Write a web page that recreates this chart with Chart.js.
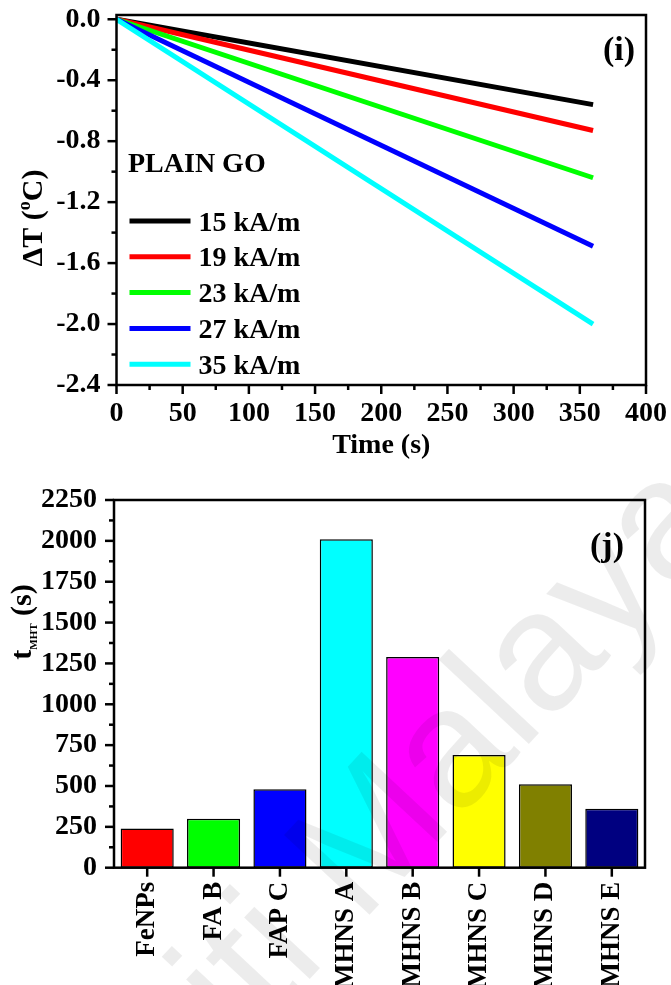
<!DOCTYPE html>
<html>
<head>
<meta charset="utf-8">
<script src="https://cdn.jsdelivr.net/npm/chart.js@4.4.1/dist/chart.umd.min.js"></script>
<style>
  html, body { margin: 0; padding: 0; background: #fff; }
  body { width: 671px; height: 985px; position: relative; overflow: hidden; }
  canvas { position: absolute; left: 0; }
  #heating { top: 0; }
  #tmht { top: 470px; }
  #wm { top: 0; pointer-events: none; }
</style>
</head>
<body>
<canvas id="heating" width="671" height="470"></canvas>
<canvas id="tmht" width="671" height="515"></canvas>
<canvas id="wm" width="671" height="985"></canvas>
<script>
// ---- panel (i): temperature change of plain GO under different field amplitudes ----
const times = [0, 360];
const fieldLabels = ['15 kA/m', '19 kA/m', '23 kA/m', '27 kA/m', '35 kA/m'];
const dT15 = [0, -0.56];
const dT19 = [0, -0.73];
const dT23 = [0, -1.04];
const dT27 = [0, -1.49];
const dT35 = [0, -2.00];
const lineColors = ['#000000', '#ff0000', '#00ff00', '#0000ff', '#00ffff'];
const timeTicks = [0, 50, 100, 150, 200, 250, 300, 350, 400];
const dTTicks = [0.0, -0.4, -0.8, -1.2, -1.6, -2.0, -2.4];

// ---- panel (j): magnetic hyperthermia time of each sample ----
const samples = ['FeNPs', 'FA B', 'FAP C', 'MHNS A', 'MHNS B', 'MHNS C', 'MHNS D', 'MHNS E'];
const tMHT = [240, 300, 480, 2010, 1290, 690, 510, 360];
const barColors = ['#ff0000', '#00ff00', '#0000ff', '#00ffff', '#ff00ff', '#ffff00', '#808000', '#000080'];
const tTicks = [0, 250, 500, 750, 1000, 1250, 1500, 1750, 2000, 2250];

const SERIF = '"Liberation Serif", "Times New Roman", Times, serif';
const tickFont = { family: SERIF, size: 28, weight: 'bold' };

const mids = arr => arr.slice(1).map((v, i) => (v + arr[i]) / 2);

function zeroPadding(s) {
  s.paddingTop = 0; s.paddingBottom = 0; s.paddingLeft = 0; s.paddingRight = 0;
}

// box around the plot plus outward major/minor tick marks
const framePlugin = {
  id: 'frame',
  afterDatasetsDraw(chart, args, opts) {
    const { ctx, chartArea: a } = chart;
    const xs = chart.scales.x, ys = chart.scales.y;
    ctx.save();
    ctx.strokeStyle = '#000';
    ctx.lineCap = 'butt';
    ctx.lineWidth = 2.5;
    ctx.strokeRect(a.left, a.top, a.right - a.left, a.bottom - a.top);
    const tick = (x1, y1, x2, y2) => { ctx.beginPath(); ctx.moveTo(x1, y1); ctx.lineTo(x2, y2); ctx.stroke(); };
    (opts.yMajor || []).forEach(v => { const y = ys.getPixelForValue(v); tick(a.left - 9, y, a.left, y); });
    (opts.yMinor || []).forEach(v => { const y = ys.getPixelForValue(v); tick(a.left - 5, y, a.left, y); });
    if (opts.xCategory) {
      xs.ticks.forEach((t, i) => { const x = xs.getPixelForTick(i); tick(x, a.bottom, x, a.bottom + 9); });
    } else {
      (opts.xMajor || []).forEach(v => { const x = xs.getPixelForValue(v); tick(x, a.bottom, x, a.bottom + 9); });
      (opts.xMinor || []).forEach(v => { const x = xs.getPixelForValue(v); tick(x, a.bottom, x, a.bottom + 5); });
    }
    ctx.restore();
  }
};

// text made of runs with their own size / baseline shift (super- and subscripts)
function richWidth(ctx, parts) {
  let w = 0;
  parts.forEach(p => { ctx.font = `bold ${p.size}px ${SERIF}`; w += ctx.measureText(p.text).width; });
  return w;
}
function drawRich(ctx, parts, x, y) {
  let cx = x;
  parts.forEach(p => {
    ctx.font = `bold ${p.size}px ${SERIF}`;
    ctx.fillText(p.text, cx, y + (p.dy || 0));
    cx += ctx.measureText(p.text).width;
  });
}
function drawVerticalTitle(ctx, parts, baselineX, centerY) {
  ctx.save();
  ctx.translate(baselineX, centerY);
  ctx.rotate(-Math.PI / 2);
  ctx.fillStyle = '#000';
  ctx.textBaseline = 'alphabetic';
  ctx.textAlign = 'left';
  drawRich(ctx, parts, -richWidth(ctx, parts) / 2, 0);
  ctx.restore();
}

const heatingText = {
  id: 'heatingText',
  afterDraw(chart) {
    const { ctx, chartArea: a } = chart;
    ctx.save();
    ctx.fillStyle = '#000';
    ctx.textBaseline = 'alphabetic';
    // x title
    ctx.font = `bold 28px ${SERIF}`;
    ctx.textAlign = 'center';
    ctx.fillText('Time (s)', (a.left + a.right) / 2, 453);
    // panel letter
    ctx.font = `bold 34px ${SERIF}`;
    ctx.textAlign = 'right';
    ctx.fillText('(i)', a.right - 11, 60);
    // legend
    ctx.textAlign = 'left';
    ctx.font = `bold 28px ${SERIF}`;
    ctx.fillText('PLAIN GO', 128, 172);
    chart.data.datasets.forEach((ds, i) => {
      const y = 221 + i * 35.8;
      ctx.strokeStyle = ds.borderColor;
      ctx.lineWidth = 5;
      ctx.beginPath(); ctx.moveTo(129.5, y); ctx.lineTo(190.5, y); ctx.stroke();
      ctx.fillText(ds.label, 198.5, y + 9.5);
    });
    ctx.restore();
    drawVerticalTitle(ctx, [
      { text: '\u0394T (', size: 30 },
      { text: 'o', size: 18, dy: -12 },
      { text: 'C)', size: 30 }
    ], 42, 218);
  }
};

const tmhtText = {
  id: 'tmhtText',
  afterDraw(chart) {
    const { ctx, chartArea: a } = chart;
    ctx.save();
    ctx.fillStyle = '#000';
    ctx.textBaseline = 'alphabetic';
    ctx.font = `bold 34px ${SERIF}`;
    ctx.textAlign = 'right';
    ctx.fillText('(j)', a.right - 21, 86);
    ctx.restore();
    drawVerticalTitle(ctx, [
      { text: 't', size: 30 },
      { text: 'MHT', size: 11, dy: 6 },
      { text: ' (s)', size: 30 }
    ], 31, 152);
  }
};

const series = [dT15, dT19, dT23, dT27, dT35];

new Chart(document.getElementById('heating'), {
  type: 'line',
  data: {
    datasets: series.map((vals, i) => ({
      label: fieldLabels[i],
      data: times.map((t, k) => ({ x: t, y: vals[k] })),
      borderColor: lineColors[i],
      backgroundColor: lineColors[i],
      borderWidth: 5,
      pointRadius: 0,
      tension: 0,
      order: -i
    }))
  },
  options: {
    responsive: false,
    animation: false,
    devicePixelRatio: 1,
    layout: { padding: { top: 15, right: 25, left: 0, bottom: 0 } },
    plugins: {
      legend: { display: false },
      tooltip: { enabled: false },
      frame: { xMajor: timeTicks, xMinor: mids(timeTicks), yMajor: dTTicks, yMinor: mids(dTTicks) }
    },
    scales: {
      x: {
        type: 'linear', min: 0, max: 400,
        afterBuildTicks: s => { s.ticks = timeTicks.map(v => ({ value: v })); },
        afterFit: s => { s.height = 85; zeroPadding(s); },
        grid: { display: false, drawTicks: false },
        border: { display: false },
        ticks: { font: tickFont, color: '#000', padding: 12, maxRotation: 0, autoSkip: false, callback: v => String(v) }
      },
      y: {
        type: 'linear', min: -2.4, max: 0.028,
        afterBuildTicks: s => { s.ticks = dTTicks.map(v => ({ value: v })); },
        afterFit: s => { s.width = 116.5; zeroPadding(s); },
        grid: { display: false, drawTicks: false },
        border: { display: false },
        ticks: { font: tickFont, color: '#000', padding: 16, autoSkip: false, callback: v => v.toFixed(1) }
      }
    }
  },
  plugins: [framePlugin, heatingText]
});

new Chart(document.getElementById('tmht'), {
  type: 'bar',
  data: {
    labels: samples,
    datasets: [{
      data: tMHT,
      backgroundColor: barColors,
      borderColor: '#000',
      borderWidth: 1.5,
      borderSkipped: false,
      barPercentage: 0.8,
      categoryPercentage: 1.0
    }]
  },
  options: {
    responsive: false,
    animation: false,
    devicePixelRatio: 1,
    layout: { padding: { top: 30, right: 26, left: 0, bottom: 0 } },
    plugins: {
      legend: { display: false },
      tooltip: { enabled: false },
      frame: { xCategory: true, yMajor: tTicks, yMinor: mids(tTicks) }
    },
    scales: {
      x: {
        type: 'category',
        afterFit: s => { s.height = 117.3; zeroPadding(s); },
        grid: { display: false, drawTicks: false },
        border: { display: false },
        ticks: { font: { family: SERIF, size: 27, weight: 'bold' }, color: '#000', padding: 14, minRotation: 90, maxRotation: 90, autoSkip: false }
      },
      y: {
        type: 'linear', min: 0, max: 2250,
        afterBuildTicks: s => { s.ticks = tTicks.map(v => ({ value: v })); },
        afterFit: s => { s.width = 114; zeroPadding(s); },
        grid: { display: false, drawTicks: false },
        border: { display: false },
        ticks: { font: tickFont, color: '#000', padding: 17, autoSkip: false, callback: v => String(v) }
      }
    }
  },
  plugins: [framePlugin, tmhtText]
});

// faint diagonal institutional watermark across the page
(function () {
  const c = document.getElementById('wm');
  const ctx = c.getContext('2d');
  ctx.save();
  ctx.font = '170px "Liberation Sans", Arial, sans-serif';
  ctx.fillStyle = 'rgba(0,0,0,0.075)';
  ctx.translate(360, 925);
  ctx.rotate(-0.82);
  ctx.textBaseline = 'alphabetic';
  const pre = ctx.measureText('Universiti ').width;
  ctx.fillText('Universiti Malaya', -pre, 0);
  ctx.restore();
})();
</script>
</body>
</html>
